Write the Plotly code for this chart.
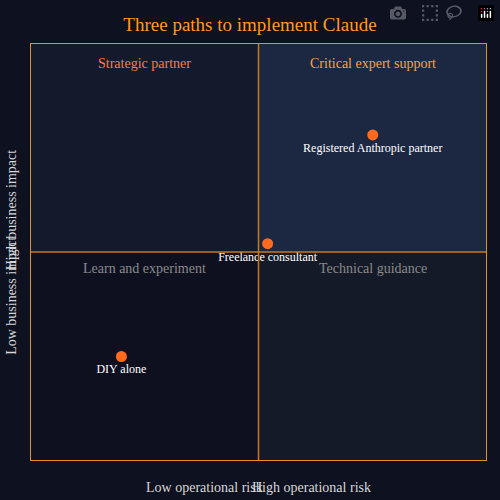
import plotly.graph_objects as go

names = ["DIY alone", "Freelance consultant", "Registered Anthropic partner"]
risk = [2.0, 5.2, 7.5]
impact = [2.5, 5.2, 7.8]
quad_labels = ["Strategic partner", "Critical expert support", "Learn and experiment", "Technical guidance"]
quad_colors = ["#131a2b", "#1c2742", "#0e1020", "#141a28"]
quad_text_colors = ["#ff7a45", "#ffa040", "#8a8a8a", "#8a8a8a"]
quad_boxes = [(0, 5, 5, 10), (5, 10, 5, 10), (0, 5, 0, 5), (5, 10, 0, 5)]
quad_text_pos = [(2.5, 9.5), (7.5, 9.5), (2.5, 4.6), (7.5, 4.6)]

F = "Liberation Serif"
fig = go.Figure()
shapes = []
for (x0, x1, y0, y1), c in zip(quad_boxes, quad_colors):
    shapes.append(dict(type="rect", x0=x0, x1=x1, y0=y0, y1=y1, fillcolor=c, line_width=0, layer="below"))
shapes.append(dict(type="line", x0=5, x1=5, y0=0, y1=10, line=dict(color="#c8781a", width=1.5)))
shapes.append(dict(type="line", x0=0, x1=10, y0=5, y1=5, line=dict(color="#c8781a", width=1.5)))
shapes.append(dict(type="rect", x0=0, x1=10, y0=0, y1=10, line=dict(color="#e8901e", width=2)))

anns = []
for t, (x, y), c in zip(quad_labels, quad_text_pos, quad_text_colors):
    anns.append(dict(x=x, y=y, text=t, showarrow=False, font=dict(family=F, size=14, color=c)))
ax = dict(showarrow=False, xref="paper", yref="paper", font=dict(family=F, size=14, color="#d8d8d8"))
anns += [
    dict(x=0.25, y=-0.04, yanchor="top", text="Low operational risk", **ax),
    dict(x=0.75, y=-0.04, yanchor="top", text="High operational risk", **ax),
    dict(x=-0.02, xanchor="right", y=0.75, text="High business impact", textangle=-90, **ax),
    dict(x=-0.02, xanchor="right", y=0.25, text="Low business impact", textangle=-90, **ax),
]

fig.add_trace(go.Scatter(x=risk, y=impact, mode="markers+text", text=names, textposition="bottom center",
                         marker=dict(size=11, color="#ff6a1f"), textfont=dict(family=F, size=12, color="white"),
                         hoverinfo="text", cliponaxis=False))
fig.update_layout(
    width=500, height=500, paper_bgcolor="#0d1120", plot_bgcolor="#0d1120",
    font=dict(family=F),
    margin=dict(l=30, r=13, t=43, b=39), showlegend=False,
    title=dict(text="Three paths to implement Claude", x=0.5, y=0.965, xanchor="center",
               font=dict(family=F, size=19, color="#ff9a1f")),
    xaxis=dict(range=[0, 10], visible=False, fixedrange=True),
    yaxis=dict(range=[0, 10], visible=False, fixedrange=True),
    shapes=shapes, annotations=anns,
)
fig.write_html("out.html", post_script="document.body.style.margin='0';document.body.style.background='#0d1120';")
